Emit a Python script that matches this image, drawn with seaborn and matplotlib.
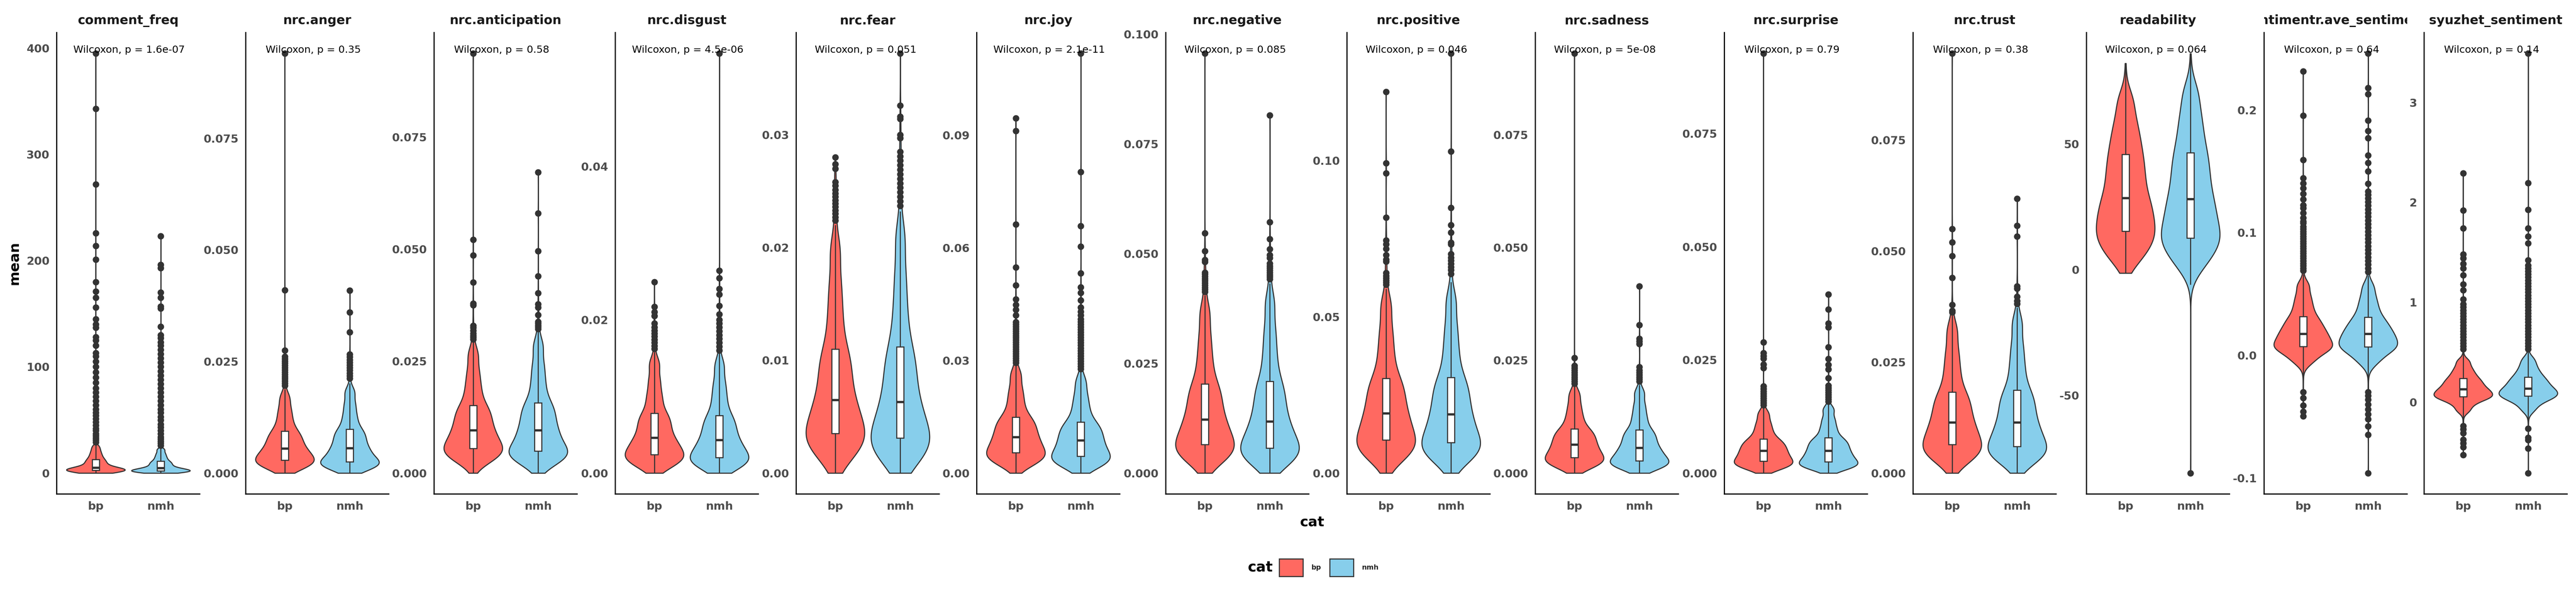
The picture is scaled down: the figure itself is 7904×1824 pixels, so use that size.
import numpy as np
import pandas as pd
import matplotlib
matplotlib.use("Agg")
import matplotlib.pyplot as plt
from matplotlib.patches import Patch
from matplotlib.transforms import Bbox, TransformedBbox
import seaborn as sns

# ------------------------------------------------------------------
# data
# each "*_q" list = 20 body quantiles (2.5% .. 97.5%), every one of them
# standing for N_PER posts; "*_out" = single points in the tails/outliers
# ------------------------------------------------------------------
N_PER = 40

cats = ["bp", "nmh"]
fill_colors = ["#FF6961", "#87CEEB"]

panels = ["comment_freq", "nrc.anger", "nrc.anticipation", "nrc.disgust",
          "nrc.fear", "nrc.joy", "nrc.negative", "nrc.positive",
          "nrc.sadness", "nrc.surprise", "nrc.trust", "readability",
          "sentimentr.ave_sentiment", "syuzhet_sentiment"]

pvals = ["1.6e-07", "0.35", "0.58", "4.5e-06", "0.051", "2.1e-11", "0.085",
         "0.046", "5e-08", "0.79", "0.38", "0.064", "0.64", "0.14"]

yticks = [[0, 100, 200, 300, 400],
          [0, 0.025, 0.05, 0.075],
          [0, 0.025, 0.05, 0.075],
          [0, 0.02, 0.04],
          [0, 0.01, 0.02, 0.03],
          [0, 0.03, 0.06, 0.09],
          [0, 0.025, 0.05, 0.075, 0.1],
          [0, 0.05, 0.1],
          [0, 0.025, 0.05, 0.075],
          [0, 0.025, 0.05, 0.075],
          [0, 0.025, 0.05, 0.075],
          [-50, 0, 50],
          [-0.1, 0.0, 0.1, 0.2],
          [0, 1, 2, 3]]
ytick_fmt = ["%d", "%.3f", "%.3f", "%.2f", "%.2f", "%.2f", "%.3f", "%.2f",
             "%.3f", "%.3f", "%.3f", "%d", "%.1f", "%d"]

freq_bp_q = [0.6, 1.3, 1.7, 2.0, 2.3, 2.6, 3.1, 3.6, 4.0, 4.5, 5.0, 6.5, 8.1, 9.6, 11.2, 12.7, 15.0, 17.6, 20.7, 24.6]
freq_bp_out = [0, 27, 29, 31, 33, 35, 37, 40, 42, 45, 48, 51, 54, 57, 60, 64, 68, 72, 76, 80, 85, 90, 95, 100,
               105, 110, 113, 120, 125, 128, 137, 140, 145, 156, 165, 171, 180, 201, 214, 226, 272, 343, 395]
freq_nmh_q = [0.5, 1.0, 1.3, 1.6, 1.8, 2.0, 2.6, 3.1, 3.7, 4.2, 4.8, 6.1, 7.4, 8.6, 9.9, 11.2, 13.3, 15.6, 18.4, 22.0]
freq_nmh_out = [0, 24, 26, 28, 30, 32, 34, 37, 40, 43, 46, 50, 53, 57, 60, 64, 68, 72, 76, 80, 84, 88, 92, 96,
                100, 104, 108, 112, 116, 120, 123, 127, 130, 138, 155, 157, 165, 170, 193, 196, 223]

anger_bp_q = [0.0007, 0.0015, 0.0019, 0.0023, 0.0026, 0.0029, 0.0034, 0.0039, 0.0045, 0.0050,
              0.0055, 0.0063, 0.0071, 0.0078, 0.0086, 0.0094, 0.0108, 0.0125, 0.0144, 0.0169]
anger_bp_out = [0, 0.0180, 0.0188, 0.0196, 0.0201, 0.0206, 0.0211, 0.0216, 0.0221, 0.0226, 0.0231,
                0.0236, 0.0241, 0.0246, 0.0251, 0.0256, 0.0261, 0.0275, 0.0410, 0.0940]
anger_nmh_q = [0.0006, 0.0013, 0.0016, 0.0020, 0.0023, 0.0025, 0.0031, 0.0037, 0.0044, 0.0050,
               0.0056, 0.0064, 0.0073, 0.0081, 0.0090, 0.0098, 0.0114, 0.0132, 0.0154, 0.0181]
anger_nmh_out = [0, 0.0193, 0.0201, 0.0212, 0.0218, 0.0224, 0.0230, 0.0236, 0.0242, 0.0248, 0.0254,
                 0.0260, 0.0266, 0.0316, 0.0360, 0.0409]

antic_bp_q = [0.0022, 0.0033, 0.0040, 0.0046, 0.0051, 0.0055, 0.0063, 0.0071, 0.0079, 0.0088,
              0.0096, 0.0107, 0.0118, 0.0129, 0.0140, 0.0151, 0.0173, 0.0197, 0.0226, 0.0264]
antic_bp_out = [0, 0.0285, 0.0293, 0.0299, 0.0303, 0.0307, 0.0312, 0.0318, 0.0325, 0.0329, 0.0375,
                0.0379, 0.0426, 0.0486, 0.0521, 0.0937]
antic_nmh_q = [0.0018, 0.0029, 0.0036, 0.0041, 0.0045, 0.0049, 0.0058, 0.0068, 0.0077, 0.0087,
               0.0096, 0.0108, 0.0120, 0.0133, 0.0145, 0.0157, 0.0181, 0.0209, 0.0241, 0.0283]
antic_nmh_out = [0, 0.0305, 0.0316, 0.0322, 0.0326, 0.0330, 0.0334, 0.0338, 0.0353, 0.0370, 0.0377,
                 0.0402, 0.0440, 0.0496, 0.0580, 0.0672]

disg_bp_q = [0.0006, 0.0012, 0.0016, 0.0019, 0.0022, 0.0024, 0.0028, 0.0033, 0.0037, 0.0041,
             0.0046, 0.0052, 0.0059, 0.0065, 0.0072, 0.0078, 0.0091, 0.0104, 0.0121, 0.0142]
disg_bp_out = [0, 0.0152, 0.0158, 0.0162, 0.0166, 0.0170, 0.0174, 0.0178, 0.0182, 0.0186, 0.0190,
               0.0195, 0.0205, 0.0210, 0.0217, 0.0249]
disg_nmh_q = [0.0005, 0.0010, 0.0013, 0.0016, 0.0018, 0.0020, 0.0025, 0.0029, 0.0034, 0.0038,
              0.0043, 0.0049, 0.0056, 0.0062, 0.0069, 0.0075, 0.0088, 0.0102, 0.0118, 0.0140]
disg_nmh_out = [0, 0.0150, 0.0156, 0.0160, 0.0165, 0.0170, 0.0175, 0.0180, 0.0185, 0.0190, 0.0195,
                0.0200, 0.0207, 0.0218, 0.0233, 0.0240, 0.0254, 0.0264, 0.0547]

fear_bp_q = [0.0011, 0.0019, 0.0025, 0.0029, 0.0032, 0.0035, 0.0041, 0.0047, 0.0053, 0.0059,
             0.0065, 0.0074, 0.0083, 0.0092, 0.0101, 0.0110, 0.0127, 0.0146, 0.0168, 0.0197]
fear_bp_out = [0, 0.0212, 0.0220, 0.0224, 0.0227, 0.0230, 0.0233, 0.0236, 0.0239, 0.0242, 0.0245,
               0.0248, 0.0251, 0.0255, 0.0258, 0.0270, 0.0274, 0.0280]
fear_nmh_q = [0.0009, 0.0016, 0.0021, 0.0025, 0.0028, 0.0031, 0.0037, 0.0044, 0.0050, 0.0057,
              0.0063, 0.0073, 0.0083, 0.0092, 0.0102, 0.0112, 0.0130, 0.0151, 0.0176, 0.0208]
fear_nmh_out = [0, 0.0225, 0.0232, 0.0237, 0.0241, 0.0245, 0.0249, 0.0253, 0.0257, 0.0261, 0.0265,
                0.0269, 0.0273, 0.0277, 0.0281, 0.0285, 0.0297, 0.0300, 0.0314, 0.0316, 0.0326, 0.0372]

joy_bp_q = [0.0018, 0.0029, 0.0037, 0.0043, 0.0049, 0.0054, 0.0062, 0.0071, 0.0079, 0.0088,
            0.0096, 0.0107, 0.0117, 0.0128, 0.0138, 0.0149, 0.0170, 0.0195, 0.0223, 0.0261]
joy_bp_out = [0, 0.0280, 0.0288, 0.0294, 0.0300, 0.0306, 0.0312, 0.0318, 0.0324, 0.0330, 0.0336,
              0.0342, 0.0348, 0.0354, 0.0360, 0.0366, 0.0372, 0.0378, 0.0384, 0.0390, 0.0396,
              0.0402, 0.0420, 0.0435, 0.0448, 0.0463, 0.0500, 0.0548, 0.0662, 0.0911, 0.0945]
joy_nmh_q = [0.0014, 0.0023, 0.0030, 0.0035, 0.0040, 0.0045, 0.0053, 0.0062, 0.0070, 0.0079,
             0.0087, 0.0097, 0.0107, 0.0116, 0.0126, 0.0136, 0.0157, 0.0180, 0.0207, 0.0243]
joy_nmh_out = [0, 0.0262, 0.0270, 0.0277, 0.0284, 0.0291, 0.0298, 0.0305, 0.0312, 0.0319, 0.0326,
               0.0333, 0.0340, 0.0347, 0.0354, 0.0361, 0.0368, 0.0375, 0.0382, 0.0389, 0.0396,
               0.0403, 0.0410, 0.0420, 0.0430, 0.0441, 0.0460, 0.0480, 0.0495, 0.0532, 0.0603,
               0.0658, 0.0802, 0.1117]

neg_bp_q = [0.0023, 0.0036, 0.0046, 0.0052, 0.0059, 0.0065, 0.0076, 0.0088, 0.0099, 0.0111,
            0.0122, 0.0138, 0.0154, 0.0171, 0.0187, 0.0203, 0.0234, 0.0269, 0.0311, 0.0364]
neg_bp_out = [0, 0.0395, 0.0405, 0.0413, 0.0418, 0.0423, 0.0428, 0.0433, 0.0438, 0.0443, 0.0448,
              0.0453, 0.0457, 0.0481, 0.0486, 0.0506, 0.0547, 0.0956]
neg_nmh_q = [0.0020, 0.0031, 0.0040, 0.0046, 0.0051, 0.0057, 0.0069, 0.0081, 0.0094, 0.0106,
             0.0118, 0.0136, 0.0154, 0.0172, 0.0191, 0.0209, 0.0243, 0.0282, 0.0327, 0.0386]
neg_nmh_out = [0, 0.0420, 0.0432, 0.0442, 0.0447, 0.0452, 0.0457, 0.0462, 0.0467, 0.0472, 0.0478,
               0.0490, 0.0497, 0.0510, 0.0533, 0.0572, 0.0815]

pos_bp_q = [0.0037, 0.0058, 0.0074, 0.0085, 0.0095, 0.0106, 0.0123, 0.0140, 0.0157, 0.0174,
            0.0191, 0.0213, 0.0236, 0.0258, 0.0281, 0.0303, 0.0347, 0.0398, 0.0457, 0.0534]
pos_bp_out = [0, 0.0575, 0.0590, 0.0603, 0.0610, 0.0617, 0.0624, 0.0631, 0.0641, 0.0677, 0.0684,
              0.0698, 0.0718, 0.0732, 0.0745, 0.0818, 0.0960, 0.0992, 0.1220]
pos_nmh_q = [0.0034, 0.0054, 0.0069, 0.0078, 0.0088, 0.0098, 0.0116, 0.0134, 0.0152, 0.0170,
             0.0188, 0.0212, 0.0235, 0.0259, 0.0282, 0.0306, 0.0353, 0.0406, 0.0468, 0.0549]
pos_nmh_out = [0, 0.0595, 0.0612, 0.0638, 0.0650, 0.0660, 0.0670, 0.0680, 0.0690, 0.0701, 0.0733,
               0.0738, 0.0770, 0.0794, 0.0849, 0.1030, 0.1343]

sad_bp_q = [0.0010, 0.0017, 0.0022, 0.0026, 0.0030, 0.0034, 0.0039, 0.0045, 0.0051, 0.0057,
            0.0063, 0.0070, 0.0077, 0.0084, 0.0091, 0.0098, 0.0113, 0.0129, 0.0149, 0.0174]
sad_bp_out = [0, 0.0185, 0.0192, 0.0198, 0.0203, 0.0208, 0.0213, 0.0218, 0.0223, 0.0228, 0.0233,
              0.0238, 0.0255, 0.0930]
sad_nmh_q = [0.0008, 0.0014, 0.0018, 0.0021, 0.0024, 0.0027, 0.0033, 0.0039, 0.0045, 0.0050,
             0.0056, 0.0064, 0.0072, 0.0080, 0.0088, 0.0096, 0.0112, 0.0129, 0.0150, 0.0177]
sad_nmh_out = [0, 0.0188, 0.0195, 0.0203, 0.0208, 0.0213, 0.0218, 0.0223, 0.0228, 0.0235, 0.0286,
               0.0292, 0.0298, 0.0328, 0.0414]

surp_bp_q = [0.0008, 0.0013, 0.0017, 0.0020, 0.0023, 0.0026, 0.0031, 0.0035, 0.0040, 0.0044,
             0.0049, 0.0054, 0.0059, 0.0064, 0.0070, 0.0075, 0.0086, 0.0098, 0.0112, 0.0131]
surp_bp_out = [0, 0.0138, 0.0145, 0.0150, 0.0155, 0.0160, 0.0165, 0.0170, 0.0175, 0.0180, 0.0186,
               0.0192, 0.0232, 0.0240, 0.0253, 0.0259, 0.0265, 0.0289, 0.0927]
surp_nmh_q = [0.0007, 0.0012, 0.0016, 0.0019, 0.0022, 0.0025, 0.0030, 0.0035, 0.0039, 0.0044,
              0.0049, 0.0055, 0.0060, 0.0066, 0.0072, 0.0078, 0.0090, 0.0103, 0.0119, 0.0140]
surp_nmh_out = [0, 0.0148, 0.0154, 0.0158, 0.0163, 0.0168, 0.0173, 0.0178, 0.0183, 0.0188, 0.0193,
                0.0210, 0.0229, 0.0239, 0.0252, 0.0278, 0.0322, 0.0331, 0.0362, 0.0395]

trust_bp_q = [0.0022, 0.0035, 0.0045, 0.0051, 0.0057, 0.0064, 0.0074, 0.0084, 0.0094, 0.0104,
              0.0114, 0.0128, 0.0141, 0.0155, 0.0168, 0.0182, 0.0209, 0.0239, 0.0274, 0.0320]
trust_bp_out = [0, 0.0345, 0.0355, 0.0362, 0.0366, 0.0379, 0.0440, 0.0489, 0.0520, 0.0550, 0.0945]
trust_nmh_q = [0.0021, 0.0033, 0.0042, 0.0048, 0.0054, 0.0060, 0.0071, 0.0082, 0.0092, 0.0103,
               0.0114, 0.0129, 0.0143, 0.0158, 0.0172, 0.0187, 0.0216, 0.0248, 0.0286, 0.0336]
trust_nmh_out = [0, 0.0362, 0.0372, 0.0381, 0.0388, 0.0397, 0.0416, 0.0421, 0.0533, 0.0557, 0.0618]

read_bp_q = [3.0, 7.0, 9.5, 12.0, 14.2, 16.2, 18.6, 21.0, 23.5, 26.0,
             28.5, 31.8, 35.2, 38.6, 42.2, 45.8, 50.0, 54.5, 60.0, 67.5]
read_bp_out = [-1.4, 0.5, 71, 74, 77, 80, 82]
read_nmh_q = [1.0, 5.0, 8.0, 10.5, 12.5, 14.4, 17.0, 19.8, 22.5, 25.3,
              28.1, 31.5, 35.0, 38.8, 42.5, 46.4, 51.0, 56.5, 62.5, 70.5]
read_nmh_out = [-80.9, -6.0, -3.0, -1.5, 74, 77, 80, 83, 85.9]

sentr_bp_q = [-0.0060, -0.0015, 0.0020, 0.0045, 0.0060, 0.0072, 0.0092, 0.0112, 0.0133, 0.0154,
              0.0175, 0.0199, 0.0224, 0.0252, 0.0283, 0.0316, 0.0365, 0.0420, 0.0485, 0.0570]
sentr_bp_out = [-0.0496, -0.0458, -0.0408, -0.0347, -0.0300, -0.0200, -0.0140, 0.0630, 0.0660,
                0.0690, 0.0710, 0.0730, 0.0750, 0.0770, 0.0790, 0.0810, 0.0830, 0.0850, 0.0870,
                0.0890, 0.0910, 0.0930, 0.0950, 0.0970, 0.0990, 0.1010, 0.1030, 0.1050, 0.1077,
                0.1090, 0.1120, 0.1160, 0.1200, 0.1225, 0.1273, 0.1316, 0.1361, 0.1403, 0.1443,
                0.1594, 0.1955, 0.2316]
sentr_nmh_q = [-0.0065, -0.0020, 0.0020, 0.0045, 0.0062, 0.0074, 0.0094, 0.0114, 0.0134, 0.0155,
               0.0175, 0.0198, 0.0222, 0.0249, 0.0278, 0.0310, 0.0358, 0.0412, 0.0475, 0.0560]
sentr_nmh_out = [-0.0960, -0.0647, -0.0580, -0.0520, -0.0480, -0.0440, -0.0400, -0.0360, -0.0330,
                 -0.0300, -0.0200, -0.0140, 0.0620, 0.0650, 0.0680, 0.0710, 0.0740, 0.0770, 0.0800,
                 0.0830, 0.0860, 0.0890, 0.0920, 0.0950, 0.0980, 0.1010, 0.1040, 0.1070, 0.1100,
                 0.1130, 0.1160, 0.1190, 0.1220, 0.1250, 0.1280, 0.1310, 0.1335, 0.1400, 0.1500,
                 0.1570, 0.1630, 0.1770, 0.1830, 0.1915, 0.2130, 0.2180, 0.2460]

syu_bp_q = [-0.085, -0.030, 0.005, 0.030, 0.045, 0.055, 0.070, 0.085, 0.100, 0.115,
            0.130, 0.150, 0.170, 0.192, 0.215, 0.238, 0.270, 0.305, 0.350, 0.410]
syu_bp_out = [-0.530, -0.450, -0.410, -0.375, -0.310, -0.270, -0.240, -0.205, -0.160, 0.470, 0.500,
              0.530, 0.560, 0.590, 0.620, 0.650, 0.680, 0.710, 0.740, 0.770, 0.800, 0.830, 0.860,
              0.890, 0.920, 0.950, 0.980, 1.030, 1.120, 1.180, 1.270, 1.340, 1.385, 1.440, 1.480,
              1.740, 1.920, 2.290]
syu_nmh_q = [-0.080, -0.025, 0.010, 0.035, 0.050, 0.062, 0.077, 0.092, 0.107, 0.122,
             0.137, 0.158, 0.180, 0.202, 0.225, 0.249, 0.283, 0.320, 0.370, 0.430]
syu_nmh_out = [-0.710, -0.465, -0.380, -0.355, -0.265, -0.200, -0.150, 0.500, 0.530, 0.560, 0.590,
               0.620, 0.650, 0.680, 0.710, 0.740, 0.770, 0.800, 0.830, 0.860, 0.890, 0.920, 0.950,
               0.980, 1.010, 1.040, 1.070, 1.100, 1.130, 1.160, 1.190, 1.220, 1.250, 1.280, 1.310,
               1.340, 1.370, 1.420, 1.590, 1.660, 1.740, 1.925, 2.195, 3.490]

groups = [
    (freq_bp_q, freq_bp_out, freq_nmh_q, freq_nmh_out),
    (anger_bp_q, anger_bp_out, anger_nmh_q, anger_nmh_out),
    (antic_bp_q, antic_bp_out, antic_nmh_q, antic_nmh_out),
    (disg_bp_q, disg_bp_out, disg_nmh_q, disg_nmh_out),
    (fear_bp_q, fear_bp_out, fear_nmh_q, fear_nmh_out),
    (joy_bp_q, joy_bp_out, joy_nmh_q, joy_nmh_out),
    (neg_bp_q, neg_bp_out, neg_nmh_q, neg_nmh_out),
    (pos_bp_q, pos_bp_out, pos_nmh_q, pos_nmh_out),
    (sad_bp_q, sad_bp_out, sad_nmh_q, sad_nmh_out),
    (surp_bp_q, surp_bp_out, surp_nmh_q, surp_nmh_out),
    (trust_bp_q, trust_bp_out, trust_nmh_q, trust_nmh_out),
    (read_bp_q, read_bp_out, read_nmh_q, read_nmh_out),
    (sentr_bp_q, sentr_bp_out, sentr_nmh_q, sentr_nmh_out),
    (syu_bp_q, syu_bp_out, syu_nmh_q, syu_nmh_out),
]

# ------------------------------------------------------------------
# layout (pixels of the 7904 x 1824 output, dpi 72 so 1pt == 1px)
# ------------------------------------------------------------------
W, H, DPI = 7904, 1824, 72
panel_left = [174, 754, 1332, 1888, 2443, 2997, 3577, 4133, 4711, 5291, 5870, 6402, 6947, 7438]
PANEL_W, PANEL_TOP, PANEL_BOT = 439, 100, 1517
EDGE = "#333333"

sns.set_theme(style="white")
plt.rcParams["font.family"] = ["DejaVu Sans"]

fig = plt.figure(figsize=(W / DPI, H / DPI), dpi=DPI)
fig.patch.set_facecolor("white")

wilcox_texts = []
for i, name in enumerate(panels):
    ax = fig.add_axes([panel_left[i] / W, 1 - PANEL_BOT / H,
                       PANEL_W / W, (PANEL_BOT - PANEL_TOP) / H])
    bp_q, bp_out, nmh_q, nmh_out = groups[i]
    bp_vals = list(np.repeat(bp_q, N_PER)) + bp_out
    nmh_vals = list(np.repeat(nmh_q, N_PER)) + nmh_out
    df = pd.DataFrame({"cat": ["bp"] * len(bp_vals) + ["nmh"] * len(nmh_vals),
                       "mean": bp_vals + nmh_vals})

    # ggplot-like (nrd0) bandwidth, a little smoother
    v = df["mean"].to_numpy()
    sd = v.std(ddof=1)
    iqr = np.percentile(v, 75) - np.percentile(v, 25)
    bw = 1.3 * 0.9 * min(sd, iqr / 1.34) * len(v) ** -0.2

    sns.violinplot(data=df, x="cat", y="mean", hue="cat", order=cats, hue_order=cats,
                   palette=fill_colors, dodge=False, cut=0, inner=None, width=0.9,
                   density_norm="area", bw_method=bw / sd, gridsize=1500,
                   linecolor=EDGE, linewidth=3.3, saturation=1, legend=False, ax=ax)
    sns.boxplot(data=df, x="cat", y="mean", order=cats, width=0.11, color="white",
                saturation=1, linecolor=EDGE, linewidth=3.3,
                flierprops=dict(marker="o", markerfacecolor=EDGE, markeredgecolor=EDGE,
                                markersize=19),
                medianprops=dict(linewidth=7), capprops=dict(linewidth=0), ax=ax)

    lo, hi = v.min(), v.max()
    ax.set_xlim(-0.6, 1.6)
    ax.set_ylim(lo - 0.05 * (hi - lo), hi + 0.05 * (hi - lo))
    ax.set_yticks(yticks[i])
    ax.set_yticklabels([ytick_fmt[i] % t for t in yticks[i]])
    ax.set_xlabel("")
    ax.set_ylabel("")
    ax.tick_params(axis="both", length=0, labelsize=34, labelcolor="#4D4D4D", pad=22)
    for lab in ax.get_xticklabels() + ax.get_yticklabels():
        lab.set_fontweight("bold")
    sns.despine(ax=ax)
    for side in ["left", "bottom"]:
        ax.spines[side].set_linewidth(3.5)
        ax.spines[side].set_color("black")

    # facet strip title, clipped to the panel width like ggplot's strips
    title = ax.text(0.5, 1.0261, name, transform=ax.transAxes, ha="center", va="center",
                    fontsize=38.5, fontweight="bold", color="#1A1A1A")
    title.set_clip_box(TransformedBbox(Bbox([[0, 1], [1, 1.1]]), ax.transAxes))
    title.set_clip_on(True)

    t = ax.text(0, 0.962, "Wilcoxon, p = " + pvals[i],
                transform=ax.get_xaxis_transform(), ha="left", va="center",
                fontsize=31, color="black")
    wilcox_texts.append((ax, t))

# label anchored at the first group with hjust ~0.2
fig.canvas.draw()
renderer = fig.canvas.get_renderer()
for ax, t in wilcox_texts:
    w = t.get_window_extent(renderer).width
    ppu = ax.transData.transform((1, 0))[0] - ax.transData.transform((0, 0))[0]
    t.set_x(-0.2 * w / ppu)

fig.text(44 / W, 1 - 808 / H, "mean", rotation=90, ha="center", va="center",
         fontsize=43, fontweight="bold", color="black")
fig.text(4026 / W, 1 - 1604 / H, "cat", ha="center", va="center",
         fontsize=43, fontweight="bold", color="black")

fig.text(3905 / W, 1 - 1743 / H, "cat", ha="right", va="center",
         fontsize=44, fontweight="bold", color="black")
handles = [Patch(facecolor=c, edgecolor=EDGE, linewidth=3.3) for c in fill_colors]
fig.legend(handles, cats, loc="center left", bbox_to_anchor=(3925 / W, 1 - 1743 / H),
           ncol=2, frameon=False, prop=dict(size=21, weight="bold"),
           handlelength=73 / 21, handleheight=75 / 21, handletextpad=1.19,
           columnspacing=1.29, borderpad=0, borderaxespad=0)

fig.savefig("out.png", dpi=DPI, facecolor="white")
